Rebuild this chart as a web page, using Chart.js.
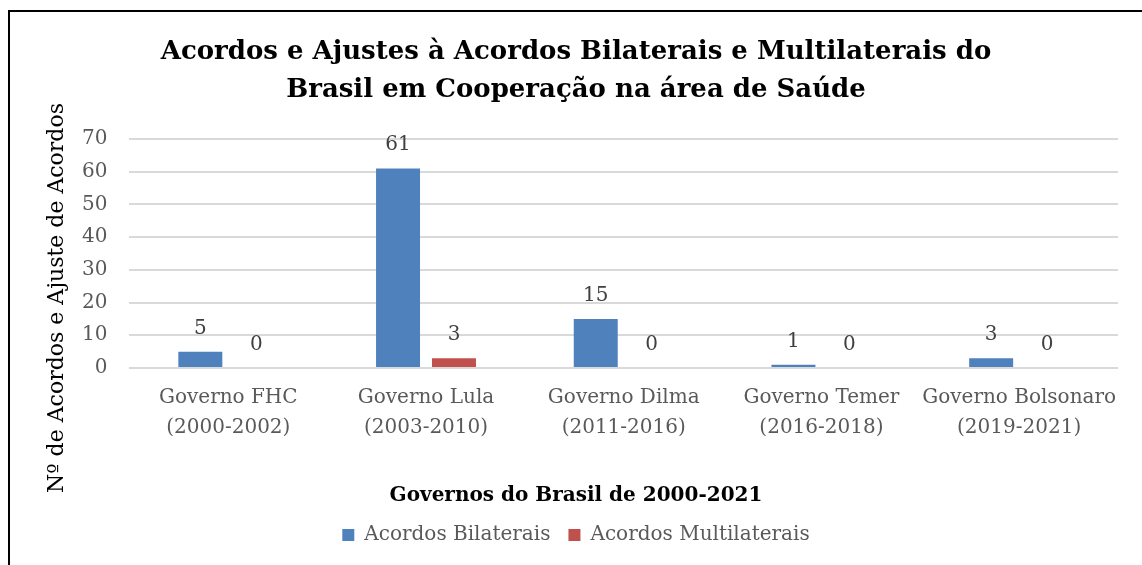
<!DOCTYPE html>
<html>
<head>
<meta charset="utf-8">
<script src="https://cdn.jsdelivr.net/npm/chart.js@4.4.1/dist/chart.umd.min.js"></script>
<style>
  html, body { margin: 0; padding: 0; background: #fff; overflow: hidden; width: 1142px; height: 565px; }
  #box { position: absolute; left: 8px; top: 10px; width: 1140px; height: 560px; border-left: 2px solid #000; border-top: 2px solid #000; }
  #wrap { position: absolute; left: 0; top: 0; width: 1132px; height: 553px; }
</style>
</head>
<body>
<div id="box"><div id="wrap"><canvas id="c" width="1132" height="553"></canvas></div></div>
<script>
const categories = [
  ["Governo FHC", "(2000-2002)"],
  ["Governo Lula", "(2003-2010)"],
  ["Governo Dilma", "(2011-2016)"],
  ["Governo Temer", "(2016-2018)"],
  ["Governo Bolsonaro", "(2019-2021)"]
];
const bilaterais = [5, 61, 15, 1, 3];
const multilaterais = [0, 3, 0, 0, 0];
const seriesNames = ["Acordos Bilaterais", "Acordos Multilaterais"];
const titleLines = ["Acordos e Ajustes à Acordos Bilaterais e Multilaterais do", "Brasil em Cooperação na área de Saúde"];
const xTitle = "Governos do Brasil de 2000-2021";
const yTitle = "Nº de Acordos e Ajuste de Acordos";

const FONT = "'DejaVu Serif', serif";

const valueLabels = {
  id: 'valueLabels',
  afterDatasetsDraw(chart) {
    const ctx = chart.ctx;
    ctx.save();
    ctx.font = "20px " + FONT;
    ctx.fillStyle = "#404040";
    ctx.textAlign = "center";
    ctx.textBaseline = "alphabetic";
    chart.data.datasets.forEach((ds, i) => {
      const meta = chart.getDatasetMeta(i);
      meta.data.forEach((bar, j) => {
        ctx.fillText(String(ds.data[j]), bar.x, bar.y - 18);
      });
    });
    ctx.restore();
  }
};

const yAxisTitle = {
  id: 'yAxisTitle',
  afterDraw(chart) {
    const ctx = chart.ctx;
    const ca = chart.chartArea;
    ctx.save();
    ctx.translate(47, ca.bottom - 70);
    ctx.rotate(-Math.PI / 2);
    ctx.font = "22px " + FONT;
    ctx.fillStyle = "#000";
    ctx.textAlign = "center";
    ctx.textBaseline = "middle";
    ctx.fillText(yTitle, 0, 0);
    ctx.restore();
  }
};

new Chart(document.getElementById('c'), {
  type: 'bar',
  data: {
    labels: categories,
    datasets: [
      { label: seriesNames[0], data: bilaterais, backgroundColor: '#4f81bd', borderWidth: 0 },
      { label: seriesNames[1], data: multilaterais, backgroundColor: '#c0504d', borderWidth: 0 }
    ]
  },
  options: {
    responsive: false,
    animation: false,
    events: [],
    categoryPercentage: 0.566,
    barPercentage: 0.786,
    layout: { padding: { left: 24, right: 24, top: 0, bottom: 10 } },
    plugins: {
      title: {
        display: true,
        text: titleLines,
        color: '#000',
        font: { family: FONT, size: 26, weight: 'bold', lineHeight: 1.4615 },
        padding: { top: 21, bottom: 30 }
      },
      legend: {
        display: true,
        position: 'bottom',
        title: {
          display: true,
          text: xTitle,
          color: '#000',
          font: { family: FONT, size: 20, weight: 'bold', lineHeight: 1 },
          padding: { top: 28, bottom: 1 }
        },
        labels: {
          color: '#595959',
          font: { family: FONT, size: 20 },
          boxWidth: 12,
          boxHeight: 12,
          padding: 18
        }
      },
      tooltip: { enabled: false }
    },
    scales: {
      x: {
        grid: { display: false, drawTicks: false },
        border: { display: false },
        ticks: { color: '#595959', font: { family: FONT, size: 20, lineHeight: 1.5 }, padding: 15, maxRotation: 0, autoSkip: false }
      },
      y: {
        min: 0, max: 70,
        grid: { color: '#d9d9d9', lineWidth: 2, drawTicks: false },
        border: { display: false },
        ticks: { stepSize: 10, color: '#595959', font: { family: FONT, size: 20 }, padding: 22 },
        afterFit(scale) { scale.width += 26; }
      }
    }
  },
  plugins: [valueLabels, yAxisTitle]
});
</script>
</body>
</html>
